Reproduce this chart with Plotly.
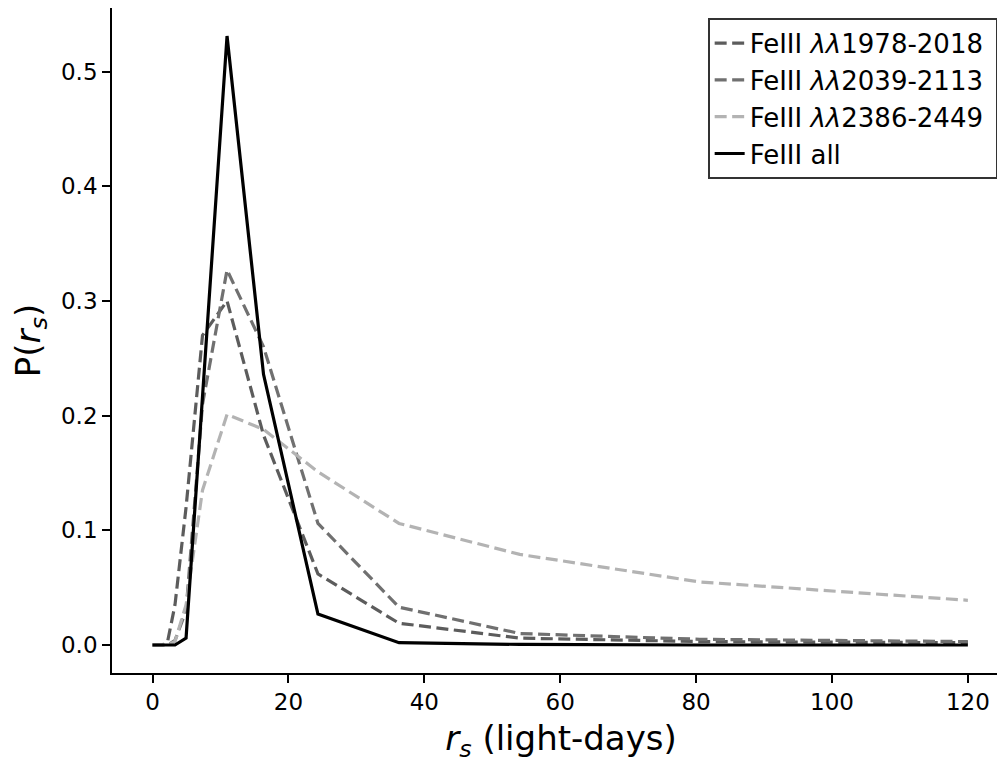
import plotly.graph_objects as go

# radial grid (light-days)
r_s = [0.0, 1.49, 2.22, 3.31, 4.94, 7.36, 10.97, 16.34, 24.35, 36.28, 54.05, 80.54, 120.0]

p_1978_2018 = [0.0, 0.0, 0.003, 0.035, 0.12, 0.27, 0.300, 0.183, 0.062, 0.019, 0.006, 0.003, 0.002]
p_2039_2113 = [0.0, 0.0, 0.0, 0.004, 0.03, 0.21, 0.327, 0.260, 0.106, 0.033, 0.010, 0.005, 0.003]
p_2386_2449 = [0.0, 0.0, 0.0, 0.003, 0.035, 0.135, 0.201, 0.188, 0.151, 0.106, 0.079, 0.055, 0.039]
p_all = [0.0, 0.0, 0.0, 0.0, 0.006, 0.219, 0.531, 0.236, 0.027, 0.002, 0.0005, 0.0, 0.0]

names = ["FeIII <i>λλ</i>1978-2018\u00a0", "FeIII <i>λλ</i>2039-2113\u00a0",
         "FeIII <i>λλ</i>2386-2449\u00a0", "FeIII all"]
series = [p_1978_2018, p_2039_2113, p_2386_2449, p_all]
colors = ["#5c5c5c", "#707070", "#b3b3b3", "#000000"]
dashes = ["12px,5.5px", "12px,5.5px", "12px,5.5px", "solid"]

fig = go.Figure()
for i, (nm, ys, c, d) in enumerate(zip(names, series, colors, dashes)):
    fig.add_trace(go.Scatter(
        x=r_s, y=ys, mode="lines", name=nm, legendgroup=f"g{i}",
        line=dict(color=c, width=3.2, dash=d),
    ))

axis_common = dict(
    showline=True, linecolor="black", linewidth=1.7, mirror=True,
    ticks="outside", ticklen=8, tickwidth=1.7, tickcolor="black",
    showgrid=False, zeroline=False, automargin=False,
    tickfont=dict(family="DejaVu Sans", size=23, color="black"),
)

fig.update_layout(
    width=1005, height=767,
    margin=dict(l=104, r=3, t=0, b=102),
    paper_bgcolor="white", plot_bgcolor="white",
    font=dict(family="DejaVu Sans", color="black"),
    xaxis=dict(range=[-5.96, 126.2], tickvals=[0, 20, 40, 60, 80, 100, 120],
               title=dict(text="<i>r<sub>s</sub></i> (light-days)",
                          font=dict(size=34), standoff=12),
               **axis_common),
    yaxis=dict(range=[-0.0244, 0.5554], tickvals=[0, 0.1, 0.2, 0.3, 0.4, 0.5],
               tickformat=".1f",
               title=dict(text="P(<i>r<sub>s</sub></i>)", font=dict(size=34), standoff=20),
               **axis_common),
    legend=dict(
        x=0.9866, y=0.985, xanchor="right", yanchor="top",
        bgcolor="white", bordercolor="#333333", borderwidth=1.7,
        font=dict(family="DejaVu Sans", size=26, color="black"),
        traceorder="grouped", tracegroupgap=0,
    ),
    showlegend=True,
)

fig.write_html("out.html")
